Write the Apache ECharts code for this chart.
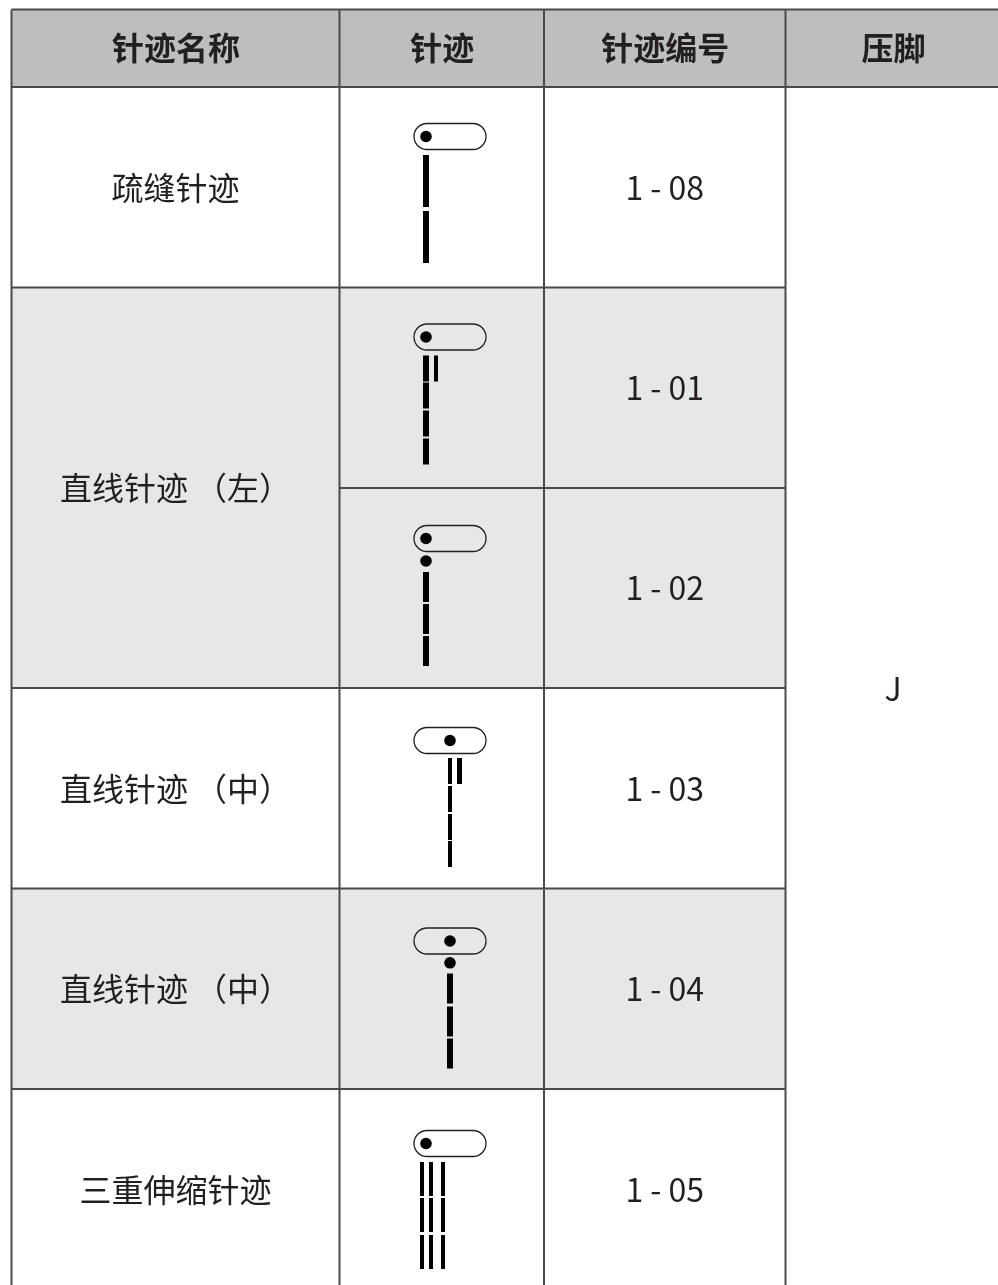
<!DOCTYPE html>
<html lang="zh">
<head>
    <meta charset="UTF-8">
    <title>针迹表</title>
    <script src="https://cdn.jsdelivr.net/npm/echarts@6/dist/echarts.min.js"></script>
    <style type="text/css">
        html, body { margin: 0; padding: 0; background: #fff; }
        #myChart { width: 998px; height: 1285px; }
    </style>
</head>
<body>
<div id="myChart"></div>

<script>
    // table content
    const headers = ['针迹名称', '针迹', '针迹编号', '压脚'];
    const stitchNames = ['疏缝针迹', '直线针迹 （左）', '直线针迹 （中）', '直线针迹 （中）', '三重伸缩针迹'];
    const nameRowSpans = [1, 2, 1, 1, 1];
    const stitchNumbers = ['1 - 08', '1 - 01', '1 - 02', '1 - 03', '1 - 04', '1 - 05'];
    const footLabel = 'J';
    const shadedRows = [false, true, true, false, true, false];

    const stitchRuns = [
        [[68, 120], [124, 176]],
        [[68, 94], [95, 121], [123, 149], [151, 177]],
        [[84, 114], [116, 146], [148, 178]],
        [[70, 96], [98, 124], [126, 152], [153, 179]],
        [[85, 115], [118, 148], [150, 180]],
        [[73, 107], [109, 143], [146, 180]]
    ];
    // [offset from the presser foot slot, width, how many stitches of the run]
    const stitchStrands = [
        [[12, 6, 2]],
        [[12, 6, 4], [22, 4, 1]],
        [[12, 6, 3]],
        [[36, 4, 4], [45.5, 5, 1]],
        [[36, 6, 3]],
        [[8, 4, 3], [17, 4, 3], [29, 4, 3]]
    ];
    const needleOffsets = [12, 12, 12, 36, 36, 12];
    const slotCenters = [49.5, 49.5, 50.5, 52.5, 52.5, 54.5];
    const extraDots = [null, null, 73, null, 74.3, null];

    // table layout
    const colEdges = [11.5, 339.5, 544, 785.5, 1000];
    const rowEdges = [87, 287.5, 488, 688, 888.5, 1089, 1290];
    const headTop = 9.5;
    const slotLeft = 414;
    const slotWidth = 72;
    const slotHeight = 26;
    const dotRadius = 5.8;

    const inkColor = '#231f20';
    const lineColor = '#4a4a4c';
    const headFill = '#bcbec0';
    const shadeFill = '#e6e7e8';
    const fontFamily = '"Noto Sans CJK SC", "Noto Sans", sans-serif';

    var myChart = echarts.init(document.getElementById('myChart'));

    function rectShape(api, x0, y0, x1, y1) {
        var a = api.coord([x0, y0]);
        var b = api.coord([x1, y1]);
        return { x: a[0], y: a[1], width: b[0] - a[0], height: b[1] - a[1] };
    }

    function textEl(api, text, x, y, bold) {
        var p = api.coord([x, y]);
        return {
            type: 'text',
            style: {
                x: p[0], y: p[1], text: text,
                fill: inkColor,
                font: (bold ? '700 ' : '400 ') + '32px ' + fontFamily,
                align: 'center', verticalAlign: 'middle'
            }
        };
    }

    // cell fills
    function renderFills(params, api) {
        var i = api.value(0);
        var children = [];
        if (i === 0) {
            children.push({
                type: 'rect',
                shape: rectShape(api, colEdges[0], headTop, colEdges[4], rowEdges[0]),
                style: { fill: headFill }
            });
        } else if (shadedRows[i - 1]) {
            children.push({
                type: 'rect',
                shape: rectShape(api, colEdges[0], rowEdges[i - 1], colEdges[3], rowEdges[i]),
                style: { fill: shadeFill }
            });
        }
        return { type: 'group', children: children };
    }

    // rules between the cells
    function renderLines(params, api) {
        var children = [];
        function line(x0, y0, x1, y1) {
            var a = api.coord([x0, y0]);
            var b = api.coord([x1, y1]);
            children.push({
                type: 'line',
                shape: { x1: a[0], y1: a[1], x2: b[0], y2: b[1] },
                style: { stroke: lineColor, lineWidth: 2 }
            });
        }
        var bottom = rowEdges[rowEdges.length - 1];
        line(colEdges[0], headTop, colEdges[4], headTop);
        line(colEdges[0], rowEdges[0], colEdges[4], rowEdges[0]);
        colEdges.slice(0, 4).forEach(function (x) { line(x, headTop, x, bottom); });
        // the name column and foot column have merged cells
        var nameLines = [];
        var r = 0;
        nameRowSpans.forEach(function (span) { r += span; nameLines.push(r); });
        rowEdges.slice(1, 6).forEach(function (y, idx) {
            var right = colEdges[3];
            var left = nameLines.indexOf(idx + 1) >= 0 ? colEdges[0] : colEdges[1];
            line(left, y, right, y);
        });
        return { type: 'group', children: children };
    }

    function renderTexts(params, api) {
        var children = [];
        headers.forEach(function (h, c) {
            var mid = c === 3 ? 893.5 : (colEdges[c] + colEdges[c + 1]) / 2 + 0.5;
            children.push(textEl(api, h, mid, 48, true));
        });
        var row = 0;
        stitchNames.forEach(function (name, n) {
            var span = nameRowSpans[n];
            children.push(textEl(api, name, (colEdges[0] + colEdges[1]) / 2, (rowEdges[row] + rowEdges[row + span]) / 2 + 0.2, false));
            row += span;
        });
        stitchNumbers.forEach(function (num, n) {
            children.push(textEl(api, num, (colEdges[2] + colEdges[3]) / 2, (rowEdges[n] + rowEdges[n + 1]) / 2 + 0.2, false));
        });
        children.push(textEl(api, footLabel, 893, (rowEdges[0] + rowEdges[6]) / 2, false));
        return { type: 'group', children: children };
    }

    // presser foot slot, needle dot and stitches of one row
    function renderStitch(params, api) {
        var i = api.value(0);
        var top = rowEdges[i];
        var cy = top + slotCenters[i];
        var children = [];
        var slot = rectShape(api, slotLeft, cy - slotHeight / 2, slotLeft + slotWidth, cy + slotHeight / 2);
        slot.r = slotHeight / 2;
        children.push({
            type: 'rect', shape: slot,
            style: { fill: 'none', stroke: '#231f20', lineWidth: 1.3 }
        });
        var needle = api.coord([slotLeft + needleOffsets[i], cy]);
        children.push({
            type: 'circle',
            shape: { cx: needle[0], cy: needle[1], r: dotRadius },
            style: { fill: '#000' }
        });
        if (extraDots[i] !== null) {
            var dot = api.coord([slotLeft + needleOffsets[i], top + extraDots[i]]);
            children.push({
                type: 'circle',
                shape: { cx: dot[0], cy: dot[1], r: dotRadius },
                style: { fill: '#000' }
            });
        }
        stitchStrands[i].forEach(function (strand) {
            var x = slotLeft + strand[0];
            stitchRuns[i].slice(0, strand[2]).forEach(function (run) {
                children.push({
                    type: 'rect',
                    shape: rectShape(api, x - strand[1] / 2, top + run[0], x + strand[1] / 2, top + run[1]),
                    style: { fill: '#000' }
                });
            });
        });
        return { type: 'group', children: children };
    }

    var fillData = [];
    for (var k = 0; k <= shadedRows.length; k++) fillData.push([k]);
    var stitchData = stitchRuns.map(function (r, idx) { return [idx]; });

    function customSeries(renderItem, data, z) {
        return {
            type: 'custom',
            coordinateSystem: 'cartesian2d',
            renderItem: renderItem,
            data: data,
            encode: { x: 0, y: 0 },
            clip: false,
            silent: true,
            animation: false,
            z: z
        };
    }

    myChart.setOption({
        animation: false,
        backgroundColor: '#fff',
        grid: { left: 0, right: 0, top: 0, bottom: 0 },
        xAxis: { type: 'value', min: 0, max: 998, show: false },
        yAxis: { type: 'value', min: 0, max: 1285, inverse: true, show: false },
        series: [
            customSeries(renderFills, fillData, 1),
            customSeries(renderLines, [[0]], 2),
            customSeries(renderTexts, [[0]], 3),
            customSeries(renderStitch, stitchData, 3)
        ]
    });
</script>
</body>
</html>
